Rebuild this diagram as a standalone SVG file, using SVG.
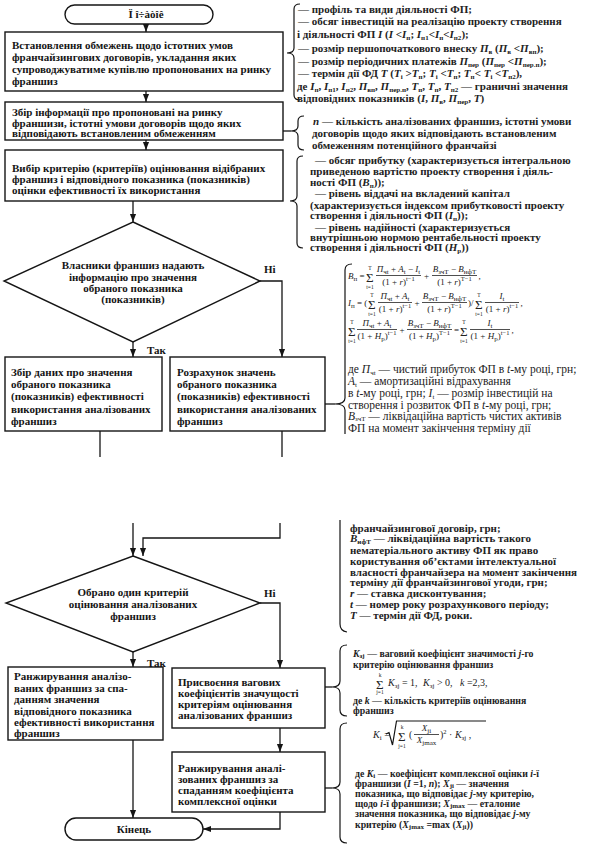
<svg xmlns="http://www.w3.org/2000/svg" width="589" height="844" viewBox="0 0 589 844">
<defs>
<marker id="ah" viewBox="0 0 10 10" refX="10" refY="5" markerWidth="8" markerHeight="8" markerUnits="userSpaceOnUse" orient="auto"><path d="M0,1.2 L10,5 L0,8.8 Z" fill="#151515"/></marker>
</defs>
<style>
.ln{fill:none;stroke:#151515;stroke-width:1.3}
.br{fill:none;stroke:#151515;stroke-width:1.2}
.bx{fill:#fff;stroke:#151515;stroke-width:1.4}
.t{font-family:"Liberation Serif","DejaVu Serif",serif;font-weight:bold;font-size:11px;fill:#151515}
.s{font-family:"Liberation Serif","DejaVu Serif",serif;font-weight:bold;font-size:11px;fill:#222}
.r{font-family:"Liberation Serif","DejaVu Serif",serif;font-size:11.5px;fill:#222}
.r5{font-family:"Liberation Serif","DejaVu Serif",serif;font-weight:bold;font-size:11px;fill:#222}
.q{font-family:"Liberation Serif","DejaVu Serif",serif;font-weight:bold;font-size:9.8px;fill:#222}
.f{font-family:"Liberation Serif","DejaVu Serif",serif;font-size:9px;fill:#222}
.f2{font-family:"Liberation Serif","DejaVu Serif",serif;font-size:10px;fill:#222}
.sg{font-family:"Liberation Serif","DejaVu Serif",serif;font-size:13px;fill:#222}
.lim{font-size:5.5px}
.i{font-style:italic}
.sb{font-size:7px}
.sp{font-size:6.5px}
.c{text-anchor:middle}
.bar{stroke:#222;stroke-width:0.8}
</style>
<rect width="589" height="844" fill="#fff"/>

<g id="connectors">
<path class="ln" d="M146,24 V32" marker-end="url(#ah)"/>
<path class="ln" d="M146,91 V102" marker-end="url(#ah)"/>
<path class="ln" d="M146,140 V150" marker-end="url(#ah)"/>
<path class="ln" d="M133,201 V222" marker-end="url(#ah)"/>
<path class="ln" d="M260,281 H282 V357" marker-end="url(#ah)"/>
<path class="ln" d="M133,342 V357" marker-end="url(#ah)"/>
<path class="ln" d="M100,431 V457"/>
<path class="ln" d="M282,431 V457"/>
<path class="ln" d="M133,523 V556" marker-end="url(#ah)"/>
<path class="ln" d="M280,523 V538 H143 V556" marker-end="url(#ah)"/>
<path class="ln" d="M260,603 H280 V668" marker-end="url(#ah)"/>
<path class="ln" d="M133,652 V667" marker-end="url(#ah)"/>
<path class="ln" d="M280,728 V752" marker-end="url(#ah)"/>
<path class="ln" d="M133,740 V818" marker-end="url(#ah)"/>
<path class="ln" d="M280,812 V829 H203" marker-end="url(#ah)"/>
<text class="t" x="264" y="273">Ні</text>
<text class="t" x="147" y="354">Так</text>
<text class="t" x="264" y="597">Ні</text>
<text class="t" x="147" y="667">Так</text>
</g>

<g id="start">
<rect class="bx" x="65" y="5" width="148" height="19" rx="9.5"/>
<text class="t c" x="146" y="18" font-size="10">Ï î÷àòîê</text>
</g>

<g id="box1">
<rect class="bx" x="5" y="32" width="278" height="59"/>
<text class="t" x="12" y="49">Встановлення обмежень щодо істотних умов</text>
<text class="t" x="12" y="61">франчайзингових договорів, укладання яких</text>
<text class="t" x="12" y="73">супроводжуватиме купівлю пропонованих на ринку</text>
<text class="t" x="12" y="85">франшиз</text>
</g>

<g id="box2">
<rect class="bx" x="5" y="102" width="278" height="38"/>
<text class="t" x="12" y="116">Збір інформації про пропоновані на ринку</text>
<text class="t" x="12" y="127">франшизи, істотні умови договорів щодо яких</text>
<text class="t" x="12" y="137">відповідають встановленим обмеженням</text>
</g>

<g id="box3">
<rect class="bx" x="5" y="150" width="278" height="51"/>
<text class="t" x="12" y="172">Вибір критерію (критеріїв) оцінювання відібраних</text>
<text class="t" x="12" y="183">франшиз і відповідного показника (показників)</text>
<text class="t" x="12" y="194">оцінки ефективності їх використання</text>
</g>

<g id="decision1">
<polygon class="bx" points="133,222 260,281 133,342 4,281"/>
<text class="t c" x="133" y="269">Власники франшиз надають</text>
<text class="t c" x="133" y="281">інформацію про значення</text>
<text class="t c" x="133" y="292">обраного показника</text>
<text class="t c" x="133" y="303">(показників)</text>
</g>

<g id="box4">
<rect class="bx" x="5" y="357" width="157" height="74"/>
<text class="t" x="11" y="376">Збір даних про значення</text>
<text class="t" x="11" y="388">обраного показника</text>
<text class="t" x="11" y="400">(показників) ефективності</text>
<text class="t" x="11" y="413">використання аналізованих</text>
<text class="t" x="11" y="425">франшиз</text>
</g>

<g id="box5">
<rect class="bx" x="170" y="357" width="155" height="74"/>
<text class="t" x="177" y="376">Розрахунок значень</text>
<text class="t" x="177" y="388">обраного показника</text>
<text class="t" x="177" y="400">(показників) ефективності</text>
<text class="t" x="177" y="413">використання аналізованих</text>
<text class="t" x="177" y="425">франшиз</text>
</g>

<g id="decision2">
<polygon class="bx" points="133,556 260,603 133,652 6,603"/>
<text class="t c" x="133" y="596">Обрано один критерій</text>
<text class="t c" x="133" y="608">оцінювання аналізованих</text>
<text class="t c" x="133" y="620">франшиз</text>
</g>

<g id="box6">
<rect class="bx" x="8" y="667" width="155" height="73"/>
<text class="t" x="14" y="680">Ранжирування аналізо-</text>
<text class="t" x="14" y="691.5">ваних франшиз за спа-</text>
<text class="t" x="14" y="703">данням значення</text>
<text class="t" x="14" y="714.5">відповідного показника</text>
<text class="t" x="14" y="726">ефективності використання</text>
<text class="t" x="14" y="737">франшиз</text>
</g>

<g id="box7">
<rect class="bx" x="172" y="668" width="153" height="60"/>
<text class="t" x="178" y="686">Присвоєння вагових</text>
<text class="t" x="178" y="697">коефіцієнтів значущості</text>
<text class="t" x="178" y="708">критеріям оцінювання</text>
<text class="t" x="178" y="719">аналізованих франшиз</text>
</g>

<g id="box8">
<rect class="bx" x="172" y="752" width="153" height="60"/>
<text class="t" x="178" y="772">Ранжирування аналі-</text>
<text class="t" x="178" y="783">зованих франшиз за</text>
<text class="t" x="178" y="794">спаданням коефіцієнта</text>
<text class="t" x="178" y="805">комплексної оцінки</text>
</g>

<g id="end">
<rect class="bx" x="65" y="818" width="138" height="22" rx="11"/>
<text class="t c" x="134" y="833">Кінець</text>
</g>

<g id="note1">
<path class="br" d="M300,4 Q294,4 294,9 L294,48 Q294,53 287,53 Q294,53 294,58 L294,95 Q294,100 300,100"/>
<text class="s" x="298" y="13">— профіль та види діяльності ФП;</text>
<text class="s" x="298" y="25">— обсяг інвестицій на реалізацію проекту створення</text>
<text class="s" x="297" y="38">і діяльності ФП <tspan class="i">I</tspan> (<tspan class="i">I</tspan> &lt;<tspan class="i">I</tspan><tspan class="sb" dy="2">п</tspan><tspan dy="-2">; </tspan><tspan class="i">I</tspan><tspan class="sb" dy="2">п1</tspan><tspan dy="-2">&lt;</tspan><tspan class="i">I</tspan><tspan class="sb" dy="2">п</tspan><tspan dy="-2">&lt;</tspan><tspan class="i">I</tspan><tspan class="sb" dy="2">п2</tspan><tspan dy="-2">);</tspan></text>
<text class="s" x="298" y="52">— розмір першопочаткового внеску <tspan class="i">П</tspan><tspan class="sb" dy="2">в</tspan><tspan dy="-2"> (</tspan><tspan class="i">П</tspan><tspan class="sb" dy="2">в</tspan><tspan dy="-2"> &lt;</tspan><tspan class="i">П</tspan><tspan class="sb" dy="2">вп</tspan><tspan dy="-2">);</tspan></text>
<text class="s" x="298" y="65">— розмір періодичних платежів <tspan class="i">П</tspan><tspan class="sb" dy="2">пер</tspan><tspan dy="-2"> (</tspan><tspan class="i">П</tspan><tspan class="sb" dy="2">пер</tspan><tspan dy="-2"> &lt;</tspan><tspan class="i">П</tspan><tspan class="sb" dy="2">пер.п</tspan><tspan dy="-2">);</tspan></text>
<text class="s" x="298" y="77">— термін дії ФД <tspan class="i">T</tspan> (<tspan class="i">T</tspan><tspan class="sb" dy="2">i</tspan><tspan dy="-2"> &gt;</tspan><tspan class="i">T</tspan><tspan class="sb" dy="2">п</tspan><tspan dy="-2">; </tspan><tspan class="i">T</tspan><tspan class="sb" dy="2">i</tspan><tspan dy="-2"> &lt;</tspan><tspan class="i">T</tspan><tspan class="sb" dy="2">п</tspan><tspan dy="-2">; </tspan><tspan class="i">T</tspan><tspan class="sb" dy="2">п</tspan><tspan dy="-2">&lt; </tspan><tspan class="i">T</tspan><tspan class="sb" dy="2">i</tspan><tspan dy="-2"> &lt;</tspan><tspan class="i">T</tspan><tspan class="sb" dy="2">п2</tspan><tspan dy="-2">),</tspan></text>
<text class="s" x="297" y="89.5">де <tspan class="i">I</tspan><tspan class="sb" dy="2">п</tspan><tspan dy="-2">, </tspan><tspan class="i">I</tspan><tspan class="sb" dy="2">п1</tspan><tspan dy="-2">, </tspan><tspan class="i">I</tspan><tspan class="sb" dy="2">п2</tspan><tspan dy="-2">, </tspan><tspan class="i">П</tspan><tspan class="sb" dy="2">вп</tspan><tspan dy="-2">, </tspan><tspan class="i">П</tspan><tspan class="sb" dy="2">пер.п</tspan><tspan dy="-2">, </tspan><tspan class="i">T</tspan><tspan class="sb" dy="2">п</tspan><tspan dy="-2">, </tspan><tspan class="i">T</tspan><tspan class="sb" dy="2">п</tspan><tspan dy="-2">, </tspan><tspan class="i">T</tspan><tspan class="sb" dy="2">п2</tspan><tspan dy="-2"> — граничні значення</tspan></text>
<text class="s" x="297" y="102">відповідних показників (<tspan class="i">I</tspan>, <tspan class="i">П</tspan><tspan class="sb" dy="2">в</tspan><tspan dy="-2">, </tspan><tspan class="i">П</tspan><tspan class="sb" dy="2">пер</tspan><tspan dy="-2">, </tspan><tspan class="i">T</tspan>)</text>
</g>

<g id="note2">
<path class="ln" d="M283,131 H291"/>
<path class="br" d="M304,116 Q298,116 298,121 L298,126 Q298,131 291,131 Q298,131 298,136 L298,145 Q298,150 304,150"/>
<text class="s" x="313" y="124.5"><tspan class="i">n</tspan> — кількість аналізованих франшиз, істотні умови</text>
<text class="s" x="312" y="136.5">договорів щодо яких відповідають встановленим</text>
<text class="s" x="312" y="148.5">обмеженням потенційного франчайзі</text>
</g>

<g id="note3">
<path class="br" d="M303,156 Q297,156 297,161 L297,196 Q297,201 290,201 Q297,201 297,206 L297,243 Q297,248 303,248"/>
<text class="s" x="315" y="163.5">— обсяг прибутку (характеризується інтегральною</text>
<text class="s" x="310" y="175">приведеною вартістю проекту створення і діяль-</text>
<text class="s" x="310" y="186">ності ФП (<tspan class="i">B</tspan><tspan class="sb" dy="2">п</tspan><tspan dy="-2">));</tspan></text>
<text class="s" x="315" y="197">— рівень віддачі на вкладений капітал</text>
<text class="s" x="310" y="208.5">(характеризується індексом прибутковості проекту</text>
<text class="s" x="310" y="219">створення і діяльності ФП (<tspan class="i">I</tspan><tspan class="sb" dy="2">п</tspan><tspan dy="-2">));</tspan></text>
<text class="s" x="315" y="230.5">— рівень надійності (характеризується</text>
<text class="s" x="310" y="241">внутрішньою нормою рентабельності проекту</text>
<text class="s" x="310" y="251">створення і діяльності ФП (<tspan class="i">H</tspan><tspan class="sb" dy="2">р</tspan><tspan dy="-2">))</tspan></text>
</g>

<g id="note4">
<path class="ln" d="M325,404 H335"/>
<path class="br" d="M352,264 Q345,264 345,270 L345,398 Q345,404 335,404 Q345,404 345,410 L345,434"/>
<text class="f" x="348" y="279"><tspan class="i">B</tspan><tspan class="sb" dy="2">п</tspan><tspan dy="-2"> =</tspan></text>
<text class="sg"><tspan x="366" y="282">Σ</tspan><tspan class="lim" x="368.3" y="269.5">T</tspan><tspan class="lim" x="366.3" y="288.5">t=1</tspan></text>
<text class="f c" x="398.5" y="272"><tspan class="i">П</tspan><tspan class="sb" dy="2">чt</tspan><tspan dy="-2"> + </tspan><tspan class="i">A</tspan><tspan class="sb" dy="2">t</tspan><tspan dy="-2"> − </tspan><tspan class="i">I</tspan><tspan class="sb" dy="2">t</tspan></text>
<line class="bar" x1="376" y1="275.5" x2="421" y2="275.5"/>
<text class="f c" x="398.5" y="285">(1 + <tspan class="i">r</tspan>)<tspan class="sp" dy="-4">t−1</tspan></text>
<text class="f" x="424" y="279">+</text>
<text class="f c" x="454.5" y="272"><tspan class="i">B</tspan><tspan class="sb" dy="2">зчT</tspan><tspan dy="-2"> − </tspan><tspan class="i">B</tspan><tspan class="sb" dy="2">нфT</tspan></text>
<line class="bar" x1="432" y1="275.5" x2="477" y2="275.5"/>
<text class="f c" x="454.5" y="285">(1 + <tspan class="i">r</tspan>)<tspan class="sp" dy="-4">T−1</tspan></text>
<text class="f" x="478.5" y="279">,</text>
<text class="f" x="348" y="306"><tspan class="i">I</tspan><tspan class="sb" dy="2">п</tspan><tspan dy="-2"> = (</tspan></text>
<text class="sg"><tspan x="368" y="309">Σ</tspan><tspan class="lim" x="370.3" y="296.5">T</tspan><tspan class="lim" x="368.3" y="315.5">t=1</tspan></text>
<text class="f c" x="395" y="299"><tspan class="i">П</tspan><tspan class="sb" dy="2">чt</tspan><tspan dy="-2"> + </tspan><tspan class="i">A</tspan><tspan class="sb" dy="2">t</tspan></text>
<line class="bar" x1="378" y1="302.5" x2="412" y2="302.5"/>
<text class="f c" x="395" y="312">(1 + <tspan class="i">r</tspan>)<tspan class="sp" dy="-4">t−1</tspan></text>
<text class="f" x="414.5" y="306">+</text>
<text class="f c" x="444.5" y="299"><tspan class="i">B</tspan><tspan class="sb" dy="2">зчT</tspan><tspan dy="-2"> − </tspan><tspan class="i">B</tspan><tspan class="sb" dy="2">нфT</tspan></text>
<line class="bar" x1="422" y1="302.5" x2="467" y2="302.5"/>
<text class="f c" x="444.5" y="312">(1 + <tspan class="i">r</tspan>)<tspan class="sp" dy="-4">T−1</tspan></text>
<text class="f" x="468" y="306">)/</text>
<text class="sg"><tspan x="475" y="309">Σ</tspan><tspan class="lim" x="477.3" y="296.5">T</tspan><tspan class="lim" x="475.3" y="315.5">t=1</tspan></text>
<text class="f c" x="502" y="299"><tspan class="i">I</tspan><tspan class="sb" dy="2">t</tspan></text>
<line class="bar" x1="485" y1="302.5" x2="519" y2="302.5"/>
<text class="f c" x="502" y="312">(1 + <tspan class="i">r</tspan>)<tspan class="sp" dy="-4">t−1</tspan></text>
<text class="f" x="520.5" y="306">,</text>
<text class="sg"><tspan x="348" y="336">Σ</tspan><tspan class="lim" x="350.3" y="323.5">T</tspan><tspan class="lim" x="348.3" y="342.5">t=1</tspan></text>
<text class="f c" x="377" y="326"><tspan class="i">П</tspan><tspan class="sb" dy="2">чt</tspan><tspan dy="-2"> + </tspan><tspan class="i">A</tspan><tspan class="sb" dy="2">t</tspan></text>
<line class="bar" x1="357" y1="329.5" x2="397" y2="329.5"/>
<text class="f c" x="377" y="339">(1 + <tspan class="i">H</tspan><tspan class="sb" dy="2">р</tspan><tspan dy="-2">)</tspan><tspan class="sp" dy="-4">t−1</tspan></text>
<text class="f" x="399.5" y="333">+</text>
<text class="f c" x="429.5" y="326"><tspan class="i">B</tspan><tspan class="sb" dy="2">зчT</tspan><tspan dy="-2"> − </tspan><tspan class="i">B</tspan><tspan class="sb" dy="2">нфT</tspan></text>
<line class="bar" x1="407" y1="329.5" x2="452" y2="329.5"/>
<text class="f c" x="429.5" y="339">(1 + <tspan class="i">H</tspan><tspan class="sb" dy="2">р</tspan><tspan dy="-2">)</tspan><tspan class="sp" dy="-4">T−1</tspan></text>
<text class="f" x="454" y="333">=</text>
<text class="sg"><tspan x="460" y="336">Σ</tspan><tspan class="lim" x="462.3" y="323.5">T</tspan><tspan class="lim" x="460.3" y="342.5">t=1</tspan></text>
<text class="f c" x="490" y="326"><tspan class="i">I</tspan><tspan class="sb" dy="2">t</tspan></text>
<line class="bar" x1="470" y1="329.5" x2="510" y2="329.5"/>
<text class="f c" x="490" y="339">(1 + <tspan class="i">H</tspan><tspan class="sb" dy="2">р</tspan><tspan dy="-2">)</tspan><tspan class="sp" dy="-4">t−1</tspan></text>
<text class="f" x="511.5" y="333">,</text>
<text class="r" x="348" y="373">де <tspan class="i">П</tspan><tspan class="sb" dy="2">чt</tspan><tspan dy="-2"> — чистий прибуток ФП в </tspan><tspan class="i">t</tspan>-му році, грн;</text>
<text class="r" x="348" y="385"><tspan class="i">A</tspan><tspan class="sb" dy="2">t</tspan><tspan dy="-2"> — амортизаційні відрахування</tspan></text>
<text class="r" x="348" y="397">в <tspan class="i">t</tspan>-му році, грн; <tspan class="i">I</tspan><tspan class="sb" dy="2">t</tspan><tspan dy="-2"> — розмір інвестицій на</tspan></text>
<text class="r" x="348" y="408.5">створення і розвиток ФП в <tspan class="i">t</tspan>-му році, грн;</text>
<text class="r" x="348" y="419.5"><tspan class="i">B</tspan><tspan class="sb" dy="1.5">зчT</tspan><tspan dy="-1.5"> — ліквідаційна вартість чистих активів</tspan></text>
<text class="r" x="348" y="431.5">ФП на момент закінчення терміну дії</text>
</g>

<g id="note5">
<path class="br" d="M340,520 L340,624 Q340,631 347,632"/>
<text class="r5" x="350" y="531.5">франчайзингової договір, грн;</text>
<text class="r5" x="350" y="542"><tspan class="i">B</tspan><tspan class="sb" dy="1.5">нфT</tspan><tspan dy="-1.5"> — ліквідаційна вартість такого</tspan></text>
<text class="r5" x="350" y="553.5">нематеріального активу ФП як право</text>
<text class="r5" x="350" y="564.5">користування об’єктами інтелектуальної</text>
<text class="r5" x="350" y="575.5">власності франчайзера на момент закінчення</text>
<text class="r5" x="350" y="586">терміну дії франчайзингової угоди, грн;</text>
<text class="r5" x="350" y="597"><tspan class="i">r</tspan> — ставка дисконтування;</text>
<text class="r5" x="350" y="608"><tspan class="i">t</tspan> — номер року розрахункового періоду;</text>
<text class="r5" x="350" y="619"><tspan class="i">T</tspan> — термін дії ФД, роки.</text>
</g>

<g id="note6">
<path class="ln" d="M325,687 H332"/>
<path class="br" d="M347,645 Q340,645 340,651 L340,681 Q340,687 332,687 Q340,687 340,693 L340,710 Q340,716 347,716"/>
<text class="q" x="353" y="656.5"><tspan class="i">K</tspan><tspan class="sb" dy="1.5">зj</tspan><tspan dy="-1.5"> — ваговий коефіцієнт значимості </tspan><tspan class="i">j</tspan>-го</text>
<text class="q" x="353" y="667.5">критерію оцінювання франшиз</text>
<text class="sg"><tspan x="376" y="688.5">Σ</tspan><tspan class="lim" x="378.8" y="676.5">k</tspan><tspan class="lim" x="376.3" y="694">j=1</tspan></text>
<text class="f2" x="388" y="686"><tspan class="i">K</tspan><tspan class="sb" dy="1.5">зj</tspan><tspan dy="-1.5"> = 1,</tspan></text>
<text class="f2" x="423" y="686"><tspan class="i">K</tspan><tspan class="sb" dy="1.5">зj</tspan><tspan dy="-1.5"> &gt; 0,</tspan></text>
<text class="f2" x="460" y="686"><tspan class="i">k</tspan> =2,3,</text>
<text class="q" x="353" y="704">де <tspan class="i">k</tspan> — кількість критеріїв оцінювання</text>
<text class="q" x="353" y="714">франшиз</text>
</g>

<g id="note7">
<path class="ln" d="M325,788 H332"/>
<path class="br" d="M347,723 Q340,723 340,729 L340,782 Q340,788 332,788 Q340,788 340,794 L340,837 Q340,843 347,843"/>
<text class="f2" x="373" y="738"><tspan class="i">K</tspan><tspan class="sb" dy="2">i</tspan><tspan dy="-2"> =</tspan></text>
<path class="br" stroke-width="0.9" d="M386,734 L389,732.5 L392.5,745 L396.5,721 L486,721"/>
<text class="sg"><tspan x="398" y="741">Σ</tspan><tspan class="lim" x="400.8" y="728.5">k</tspan><tspan class="lim" x="398.3" y="747.5">j=1</tspan></text>
<text class="f2" x="409" y="738">(</text>
<text class="f c" x="426.5" y="731"><tspan class="i">X</tspan><tspan class="sb" dy="2">ji</tspan></text>
<line class="bar" x1="414" y1="734.5" x2="439" y2="734.5"/>
<text class="f c" x="426.5" y="743"><tspan class="i">X</tspan><tspan class="sb" dy="2">jmax</tspan></text>
<text class="f2" x="440" y="738">)<tspan class="sp" dy="-4">2</tspan><tspan dy="4"> · </tspan><tspan class="i">K</tspan><tspan class="sb" dy="2">зj</tspan><tspan dy="-2"> ,</tspan></text>
<text class="q" x="355" y="776.5">де <tspan class="i">K</tspan><tspan class="sb" dy="1.5">i</tspan><tspan dy="-1.5"> — коефіцієнт комплексної оцінки </tspan><tspan class="i">i</tspan>-ї</text>
<text class="q" x="355" y="786.5">франшизи (<tspan class="i">I</tspan> =1, <tspan class="i">n</tspan>); <tspan class="i">X</tspan><tspan class="sb" dy="1.5">ji</tspan><tspan dy="-1.5"> — значення</tspan></text>
<text class="q" x="355" y="796.5">показника, що відповідає <tspan class="i">j</tspan>-му критерію,</text>
<text class="q" x="355" y="806.5">щодо <tspan class="i">i</tspan>-ї франшизи; <tspan class="i">X</tspan><tspan class="sb" dy="1.5">jmax</tspan><tspan dy="-1.5"> — еталоние</tspan></text>
<text class="q" x="355" y="816.5">значення показника, що відповідає <tspan class="i">j</tspan>-му</text>
<text class="q" x="355" y="827.5">критерію (<tspan class="i">X</tspan><tspan class="sb" dy="1.5">jmax</tspan><tspan dy="-1.5"> =max (</tspan><tspan class="i">X</tspan><tspan class="sb" dy="1.5">ji</tspan><tspan dy="-1.5">))</tspan></text>
</g>
</svg>
